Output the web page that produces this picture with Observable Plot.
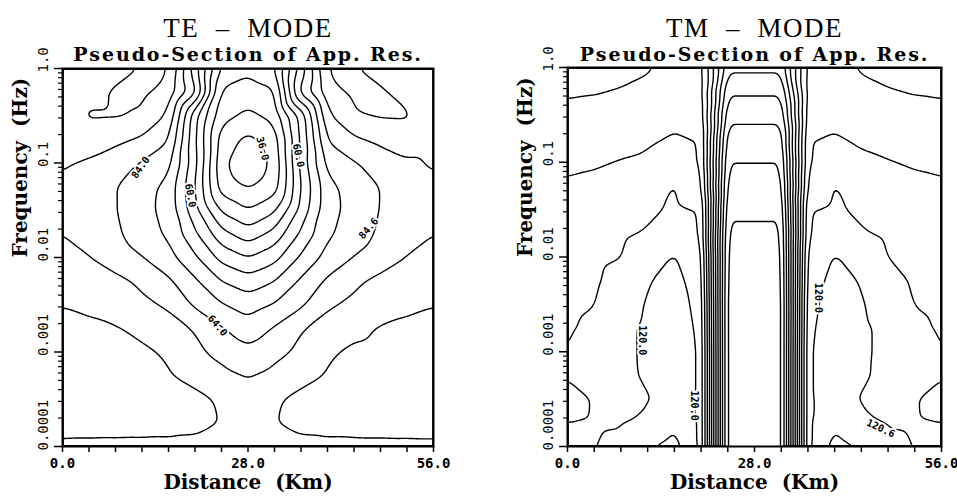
<!DOCTYPE html>
<html><head><meta charset="utf-8">
<script src="https://cdn.jsdelivr.net/npm/d3@7"></script>
<script src="https://cdn.jsdelivr.net/npm/@observablehq/plot@0.6"></script>
<style>
body{margin:0;background:#fff;}
#wrap{position:relative;width:957px;height:503px;overflow:hidden;background:#fff;}
#wrap svg{position:absolute;top:0;}
</style></head><body><div id="wrap"></div>
<script>
// ---- data ----
const distances = [0, 4, 8, 12, 16, 20, 24, 28, 32, 36, 40, 44, 48, 52, 56];
const frequencies = [1, 0.5623, 0.3162, 0.1778, 0.1, 0.05623, 0.03162, 0.01778, 0.01,
  0.005623, 0.003162, 0.001778, 0.001, 0.0005623, 0.0003162, 0.0001778, 0.0001];

// TE-mode apparent resistivity, one row per frequency
const teRho = [
  [92, 92.5, 94, 96.4, 96.6, 75, 53, 49.5, 53, 75, 96.6, 96.4, 94, 92.5, 92],
  [91.5, 94, 96.8, 97.2, 94, 80, 47, 45, 47, 80, 94, 97.2, 96.8, 94, 91.5],
  [91, 96.8, 96.6, 95.5, 89, 62, 44, 40.5, 44, 62, 89, 95.5, 96.6, 96.8, 91],
  [90.8, 92, 91.5, 89, 84.5, 61, 39, 34.5, 39, 61, 84.5, 89, 91.5, 92, 90.8],
  [90.3, 89.5, 86.5, 83.5, 80, 62, 37.4, 31.5, 37.4, 62, 80, 83.5, 86.5, 89.5, 90.3],
  [89.5, 87, 84.2, 81, 76, 60.3, 39, 35.3, 39, 60.3, 76, 81, 84.2, 87, 89.5],
  [89.3, 86.5, 84.3, 80, 76, 62, 47, 42.2, 47, 62, 76, 80, 84.3, 86.5, 89.3],
  [89.9, 88, 85, 81, 77, 67, 56, 50.5, 56, 67, 77, 81, 85, 88, 89.9],
  [92, 90.2, 87, 84.2, 80, 73, 64, 60, 64, 73, 80, 84.2, 87, 90.2, 92],
  [94, 93, 91.5, 89, 85, 79, 72, 68.5, 72, 79, 85, 89, 91.5, 93, 94],
  [95.9, 95, 93, 91, 89.3, 83, 78.5, 75.5, 78.5, 83, 89.3, 91, 93, 95, 95.9],
  [97, 97, 96.5, 94.5, 92, 89.7, 84.5, 80.5, 84.5, 89.7, 92, 94.5, 96.5, 97, 97],
  [97.5, 97.5, 97.5, 97, 95.2, 91, 88.5, 85.5, 88.5, 91, 95.2, 97, 97.5, 97.5, 97.5],
  [97.5, 97.8, 98, 98, 96.5, 93.5, 91.5, 89.8, 91.5, 93.5, 96.5, 98, 98, 97.8, 97.5],
  [97.5, 97.8, 98, 98.3, 98.3, 98, 95, 91.5, 95, 98, 98.3, 98.3, 98, 97.8, 97.5],
  [97, 97.1, 97.2, 97.3, 97.5, 97.5, 95.8, 92, 95.8, 97.5, 97.5, 97.3, 97.2, 97.1, 97],
  [95.5, 95.4, 95.3, 95.2, 95, 94.5, 93, 92, 93, 94.5, 95, 95.2, 95.3, 95.4, 95.5]
];

// TM-mode apparent resistivity, one row per frequency
const tmRho = [
  [100, 100.5, 101, 101.6, 103.5, 104, 73.5, 73.5, 73.5, 104, 103.5, 101.6, 101, 100.5, 100],
  [101.3, 101.7, 102.2, 103, 104, 104.5, 67, 67, 67, 104.5, 104, 103, 102.2, 101.7, 101.3],
  [103.5, 103.5, 104, 105, 106.5, 105.5, 62, 62, 62, 105.5, 106.5, 105, 104, 103.5, 103.5],
  [105, 105.5, 106, 107.2, 108.5, 107.5, 57, 57, 57, 107.5, 108.5, 107.2, 106, 105.5, 105],
  [106.5, 107.3, 108.3, 109, 110.5, 107.9, 54.1, 54.1, 54.1, 107.9, 110.5, 109, 108.3, 107.3, 106.5],
  [109, 109.5, 110, 111, 114.2, 110, 51.5, 51.5, 51.5, 110, 114.2, 111, 110, 109.5, 109],
  [110.5, 111, 111.5, 113, 114.8, 113.5, 49, 49, 49, 113.5, 114.8, 113, 111.5, 111, 110.5],
  [111.5, 112, 113, 114.5, 117, 114.2, 47, 47, 47, 114.2, 117, 114.5, 113, 112, 111.5],
  [112, 112.8, 113.9, 118, 120.3, 116.5, 46, 46, 46, 116.5, 120.3, 118, 113.9, 112.8, 112],
  [112.5, 113.3, 116, 119.7, 121.5, 117.5, 45.5, 45.5, 45.5, 117.5, 121.5, 119.7, 116, 113.3, 112.5],
  [113, 113.9, 117, 120.5, 122, 118.5, 45, 45, 45, 118.5, 122, 120.5, 117, 113.9, 113],
  [113.5, 115, 118.5, 121, 122.5, 119, 45, 45, 45, 119, 122.5, 121, 118.5, 115, 113.5],
  [114.1, 116, 118.5, 121, 123, 119.5, 45, 45, 45, 119.5, 123, 121, 118.5, 116, 114.1],
  [119.5, 118, 118.5, 120.8, 123, 119.5, 45, 45, 45, 119.5, 123, 120.8, 118.5, 118, 119.5],
  [122, 119.6, 118.5, 119.7, 122, 119.5, 45, 45, 45, 119.5, 122, 119.7, 118.5, 119.6, 122],
  [119.9, 119.5, 119.7, 120.8, 125, 119.5, 45, 45, 45, 119.5, 125, 120.8, 119.7, 119.5, 119.9],
  [119, 119.9, 121, 125.5, 128, 119.5, 45, 45, 45, 119.5, 128, 125.5, 121, 119.9, 119]
];

const teLevels = [36, 42, 48, 54, 60, 66, 72, 78, 84, 90, 96];
const tmLevels = [48, 54, 60, 66, 72, 78, 84, 90, 96, 102, 108, 114, 120, 126];

const xTicks = [0, 4, 8, 12, 16, 20, 24, 28, 32, 36, 40, 44, 48, 52, 56];
const xLabelValues = [0, 28, 56];
const xTickLabels = ["0.0", "28.0", "56.0"];
const yLabelValues = [1, 0.1, 0.01, 0.001, 0.0001];
const yTickLabels = ["1.0", "0.1", "0.01", "0.001", "0.0001"];
const decades = [0.0001, 0.001, 0.01, 0.1];
const minorSteps = [2, 3, 4, 5, 6, 7, 8, 9];

const teLabelText = ["36.0", "60.0", "60.0", "84.0", "84.6", "64.0"];
const teLabelDist = [30.2, 35.6, 19.3, 11.8, 46.2, 23.4];
const teLabelFreq = [0.142, 0.12, 0.0453, 0.0896, 0.0203, 0.0019];
const teLabelAngle = [75, 78, 80, -55, -50, 50];

const tmLabelText = ["120.0", "120.0", "120.0", "120.6"];
const tmLabelDist = [11.2, 19.0, 37.6, 46.9];
const tmLabelFreq = [0.00132, 0.00027, 0.0037, 0.000155];
const tmLabelAngle = [90, 90, 90, 25];

const subtitle = "Pseudo-Section of App. Res.";
const yMinorTicks = decades.flatMap(d => minorSteps.map(k => d * k));

function gridOf(rows) {
  return rows.flatMap((row, i) => row.map((v, j) => ({x: distances[j], f: frequencies[i], v})));
}
function labelsOf(text, dist, freq, angle) {
  return text.map((t, i) => ({t, x: dist[i], f: freq[i], a: angle[i]}));
}

function panel(o) {
  const serif = "DejaVu Serif";
  const mono = "DejaVu Sans Mono";
  const svg = Plot.plot({
    width: o.width, height: 503,
    marginLeft: o.marginLeft, marginRight: o.marginRight, marginTop: o.marginTop, marginBottom: 57,
    x: {domain: [0, 56], label: null},
    y: {type: "log", domain: [0.0001, 1], label: null},
    style: {background: "white", overflow: "visible"},
    marks: [
      Plot.contour(gridOf(o.rows), {x: "x", y: "f", value: "v", thresholds: o.levels,
        interpolate: "barycentric", pixelSize: 1, blur: o.blur, stroke: "black", fill: "none",
        strokeWidth: 1.4, clip: true}),
      Plot.text(o.labels, {x: "x", y: "f", text: "t", rotate: "a", fontSize: 10, fontWeight: "bold",
        fontFamily: mono, fill: "black", stroke: "white", strokeWidth: 4}),
      Plot.frame({stroke: "black", strokeWidth: 2}),
      Plot.axisX({ticks: xTicks, tickSize: 6, tickFormat: () => "", strokeWidth: 1.5, label: null}),
      Plot.axisY({ticks: yLabelValues, tickSize: 8, tickFormat: () => "", strokeWidth: 1.5, label: null}),
      Plot.axisY({ticks: yMinorTicks, tickSize: 4, tickFormat: () => "", strokeWidth: 1.2, label: null}),
      Plot.text(xLabelValues, {x: d => d, frameAnchor: "bottom", dy: 21, text: (d, i) => xTickLabels[i],
        fontFamily: mono, fontSize: 14, fontWeight: "bold"}),
      Plot.text(yLabelValues, {y: d => d, frameAnchor: "left", dx: -19, dy: 4, rotate: -90,
        text: (d, i) => yTickLabels[i], fontFamily: mono, fontSize: 14}),
      Plot.text(["Distance  (Km)"], {frameAnchor: "bottom", dy: 42, text: d => d,
        fontFamily: serif, fontSize: 20, fontWeight: "bold"}),
      Plot.text(["Frequency  (Hz)"], {frameAnchor: "left", dx: -42, rotate: -90, text: d => d,
        fontFamily: serif, fontSize: 20, fontWeight: "bold"}),
      Plot.text([o.title], {frameAnchor: "top", dy: -o.marginTop + 17, text: d => d,
        fontFamily: "Liberation Serif", fontSize: 27}),
      Plot.text([subtitle], {frameAnchor: "top", dy: -o.marginTop + 47, text: d => d,
        fontFamily: serif, fontSize: 19, fontWeight: "bold"})
    ]
  });
  // widen the title lines slightly with letter spacing, as in the original typeset plot
  d3.select(svg).selectAll("text").each(function () {
    const t = this.textContent;
    if (t === subtitle) this.setAttribute("letter-spacing", "1.9");
    else if (t === o.title) this.setAttribute("letter-spacing", "1.5");
  });
  return svg;
}

const wrap = document.getElementById("wrap");
const left = panel({rows: teRho, levels: teLevels, blur: 4,
  labels: labelsOf(teLabelText, teLabelDist, teLabelFreq, teLabelAngle),
  title: "TE  –  MODE", width: 480, marginLeft: 62, marginRight: 47, marginTop: 68});
left.style.left = "0px";
wrap.appendChild(left);
const right = panel({rows: tmRho, levels: tmLevels, blur: 3,
  labels: labelsOf(tmLabelText, tmLabelDist, tmLabelFreq, tmLabelAngle),
  title: "TM  –  MODE", width: 477, marginLeft: 87, marginRight: 16, marginTop: 67});
right.style.left = "480px";
wrap.appendChild(right);
</script>
</body></html>
